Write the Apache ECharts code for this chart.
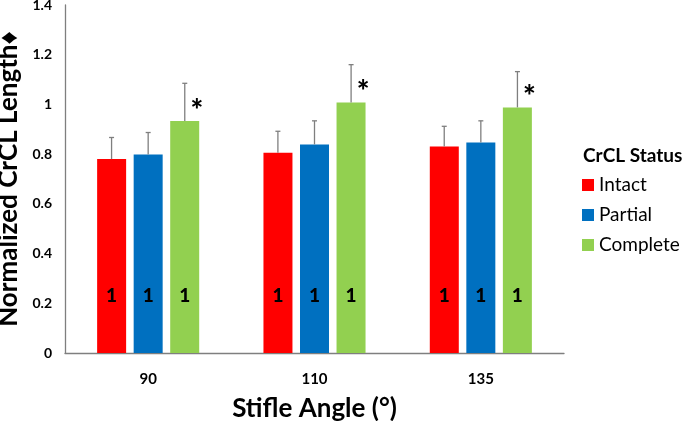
<!DOCTYPE html>
<html><head><meta charset="utf-8">
<script src="https://cdn.jsdelivr.net/npm/echarts@6/dist/echarts.min.js"></script>
<style>html,body{margin:0;padding:0;background:#fff}#c{width:685px;height:421px}</style>
</head><body><div id="c"></div>
<script>
const categories = ['90', '110', '135'];
const seriesNames = ['Intact', 'Partial', 'Complete'];
const intact = [0.780, 0.806, 0.831];
const partial = [0.799, 0.839, 0.847];
const complete = [0.933, 1.008, 0.988];
const intactErr = [0.087, 0.086, 0.081];
const partialErr = [0.088, 0.095, 0.087];
const completeErr = [0.152, 0.152, 0.144];
const countLabels = ['1', '1', '1'];
const sigMarks = ['*', '*', '*'];
const yTicks = [0, 0.2, 0.4, 0.6, 0.8, 1, 1.2, 1.4];

const colors = ['#FF0000', '#0070C0', '#92D050'];
const FONT = 'Lato';
const BW = 29, OFF = 36.6;

const chart = echarts.init(document.getElementById('c'), null, {renderer: 'canvas'});

function barSeries(name, data, idx) {
  return {
    name: name, type: 'bar', data: data, barWidth: BW, barGap: '26%',
    itemStyle: {color: colors[idx]},
    label: {
      show: true, position: ['50%', '100%'], offset: [0, -57],
      align: 'center', verticalAlign: 'middle',
      formatter: p => countLabels[p.dataIndex],
      fontFamily: FONT, fontWeight: 900, fontSize: 19, color: '#000'
    },
    z: 2
  };
}

function errSeries(vals, errs, idx) {
  return {
    type: 'custom', silent: true, z: 3,
    data: vals.map((v, i) => [i, v, v + errs[i]]),
    renderItem: function (params, api) {
      const p0 = api.coord([api.value(0), api.value(1)]);
      const p1 = api.coord([api.value(0), api.value(2)]);
      const x = p0[0] + (idx - 1) * OFF;
      return {
        type: 'group', children: [
          {type: 'line', shape: {x1: x, y1: p0[1], x2: x, y2: p1[1]}, style: {stroke: '#7f7f7f', lineWidth: 1.3}},
          {type: 'line', shape: {x1: x - 2.5, y1: p1[1], x2: x + 2.5, y2: p1[1]}, style: {stroke: '#7f7f7f', lineWidth: 1.3}}
        ]
      };
    }
  };
}

function starSeries() {
  return {
    type: 'custom', silent: true, z: 4,
    data: complete.map((v, i) => [i, v]),
    renderItem: function (params, api) {
      const p = api.coord([api.value(0), api.value(1)]);
      const x = p[0] + OFF + 12;
      return {
        type: 'text',
        style: {x: x, y: p[1] + 5, text: sigMarks[params.dataIndex], fontFamily: FONT, fontWeight: 900, fontSize: 30, fill: '#000', align: 'center', verticalAlign: 'bottom'}
      };
    }
  };
}

const option = {
  animation: false,
  backgroundColor: '#fff',
  title: {
    text: 'CrCL Status', left: 578, top: 141,
    textStyle: {fontFamily: FONT, fontWeight: 'bold', fontSize: 19, color: '#000'}
  },
  legend: {
    data: seriesNames, orient: 'vertical', left: 577, top: 170,
    itemWidth: 12, itemHeight: 12, itemGap: 10, icon: 'rect',
    textStyle: {fontFamily: FONT, fontSize: 19, color: '#000', lineHeight: 20},
    selectedMode: false
  },
  grid: {left: 65, top: 5, width: 499, height: 348, containLabel: false, outerBoundsMode: 'none'},
  xAxis: {
    type: 'category', data: categories,
    name: 'Stifle Angle (°)', nameLocation: 'middle', nameGap: 43,
    nameTextStyle: {fontFamily: FONT, fontWeight: 'bold', fontSize: 26, color: '#000'},
    axisLine: {lineStyle: {color: '#7f7f7f', width: 1.3}},
    axisTick: {show: false},
    axisLabel: {fontFamily: FONT, fontWeight: 'bold', fontSize: 15, color: '#000', margin: 19}
  },
  yAxis: {
    type: 'value', min: 0, max: 1.4, interval: 0.2,
    name: 'Normalized CrCL Length♦', nameLocation: 'middle', nameGap: 42,
    nameTextStyle: {fontFamily: FONT, fontWeight: 'bold', fontSize: 26, color: '#000'},
    axisLine: {show: true, lineStyle: {color: '#7f7f7f', width: 1.3}},
    axisTick: {show: false},
    splitLine: {show: false},
    axisLabel: {fontFamily: FONT, fontWeight: 'bold', fontSize: 14, color: '#000', margin: 13,
      formatter: v => String(yTicks.find(t => Math.abs(t - v) < 1e-6) ?? v)}
  },
  series: [
    barSeries('Intact', intact, 0),
    barSeries('Partial', partial, 1),
    barSeries('Complete', complete, 2),
    errSeries(intact, intactErr, 0),
    errSeries(partial, partialErr, 1),
    errSeries(complete, completeErr, 2),
    starSeries()
  ]
};
chart.setOption(option);
</script></body></html>
